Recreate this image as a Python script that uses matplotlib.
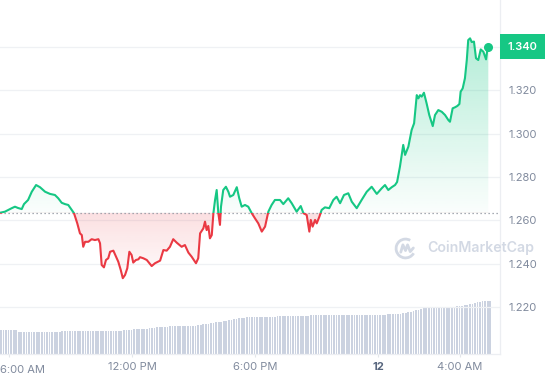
import numpy as np
import matplotlib
matplotlib.use("Agg")
import matplotlib.pyplot as plt
from matplotlib.path import Path
from matplotlib.patches import Arc
import matplotlib.transforms as mtransforms

# ---------------- data ----------------
# time in hours (from midnight of first day), price in USD
times = [
    5.56, 5.80, 6.13, 6.29, 6.44, 6.62, 6.73, 6.93, 7.11, 7.32,
    7.51, 7.76, 8.00, 8.24, 8.40, 8.57, 8.73, 8.89, 9.06, 9.17,
    9.33, 9.46, 9.55, 9.62, 9.71, 9.87, 10.03, 10.19, 10.36, 10.44,
    10.52, 10.63, 10.73, 10.84, 10.93, 11.09, 11.22, 11.33, 11.45, 11.55,
    11.66, 11.77, 11.87, 11.98, 12.06, 12.19, 12.31, 12.39, 12.55, 12.72,
    12.96, 13.12, 13.37, 13.53, 13.69, 13.85, 14.01, 14.18, 14.42, 14.58,
    14.75, 14.91, 15.12, 15.23, 15.32, 15.48, 15.56, 15.64, 15.72, 15.80,
    15.89, 15.97, 16.05, 16.13, 16.21, 16.29, 16.34, 16.45, 16.58, 16.70,
    16.78, 16.94, 17.11, 17.23, 17.35, 17.51, 17.67, 17.84, 18.00, 18.16,
    18.33, 18.49, 18.65, 18.81, 18.97, 19.22, 19.38, 19.62, 19.79, 20.03,
    20.23, 20.36, 20.52, 20.65, 20.72, 20.81, 20.93, 21.01, 21.14, 21.25,
    21.41, 21.62, 21.82, 21.98, 22.15, 22.34, 22.55, 22.72, 22.96, 23.20,
    23.45, 23.69, 23.94, 24.18, 24.34, 24.50, 24.67, 24.83, 24.93, 25.07,
    25.23, 25.32, 25.48, 25.64, 25.76, 25.89, 25.97, 26.05, 26.13, 26.24,
    26.37, 26.50, 26.67, 26.78, 26.94, 27.11, 27.27, 27.43, 27.51, 27.64,
    27.76, 27.87, 27.97, 28.03, 28.13, 28.24, 28.33, 28.40, 28.49, 28.57,
    28.68, 28.78, 28.89, 29.01, 29.14, 29.27, 29.33, 29.38,
]
prices = [
    1.2635, 1.2640, 1.2656, 1.2663, 1.2657, 1.2652, 1.2675, 1.2694, 1.2732, 1.2763,
    1.2753, 1.2732, 1.2722, 1.2717, 1.2702, 1.2681, 1.2675, 1.2671, 1.2648, 1.2633,
    1.2586, 1.2540, 1.2532, 1.2478, 1.2501, 1.2501, 1.2513, 1.2509, 1.2513, 1.2494,
    1.2394, 1.2383, 1.2417, 1.2425, 1.2455, 1.2460, 1.2432, 1.2409, 1.2371, 1.2333,
    1.2348, 1.2379, 1.2455, 1.2440, 1.2405, 1.2417, 1.2420, 1.2430, 1.2425, 1.2417,
    1.2389, 1.2402, 1.2414, 1.2463, 1.2460, 1.2478, 1.2513, 1.2497, 1.2478, 1.2486,
    1.2451, 1.2432, 1.2402, 1.2425, 1.2540, 1.2563, 1.2594, 1.2555, 1.2574, 1.2517,
    1.2532, 1.2633, 1.2694, 1.2740, 1.2633, 1.2579, 1.2663, 1.2740, 1.2755, 1.2732,
    1.2709, 1.2717, 1.2753, 1.2702, 1.2663, 1.2671, 1.2663, 1.2633, 1.2609, 1.2586,
    1.2548, 1.2571, 1.2640, 1.2671, 1.2694, 1.2694, 1.2675, 1.2702, 1.2679, 1.2640,
    1.2666, 1.2633, 1.2625, 1.2548, 1.2602, 1.2571, 1.2602, 1.2586, 1.2617, 1.2648,
    1.2660, 1.2656, 1.2694, 1.2709, 1.2679, 1.2717, 1.2725, 1.2686, 1.2656, 1.2694,
    1.2732, 1.2755, 1.2722, 1.2748, 1.2763, 1.2740, 1.2753, 1.2763, 1.2777, 1.2848,
    1.2948, 1.2902, 1.2940, 1.3017, 1.3048, 1.3178, 1.3163, 1.3178, 1.3171, 1.3189,
    1.3140, 1.3086, 1.3035, 1.3086, 1.3109, 1.3101, 1.3086, 1.3063, 1.3055, 1.3117,
    1.3122, 1.3128, 1.3137, 1.3194, 1.3209, 1.3256, 1.3340, 1.3432, 1.3440, 1.3423,
    1.3425, 1.3348, 1.3340, 1.3389, 1.3378, 1.3343, 1.3386, 1.3402,
]
# 24h volume bars (relative units), one bar every 7.5 minutes from the first time
volume = [
    240, 238, 240, 239, 240, 241, 239,
    222, 221, 220, 221, 220, 220, 221, 220, 220, 221, 220, 220, 221, 220, 221, 220, 222,
    226, 226, 227, 226, 226, 227, 226, 226, 227, 226, 228, 226, 226, 227, 226, 227,
    230, 231, 230, 232, 231, 232, 233, 234, 236,
    243, 245, 245, 246, 246, 248, 250, 252, 255, 258,
    262, 265, 268, 270, 271, 272,
    274, 276, 277, 278, 279, 280, 280, 281, 282, 283,
    284, 285, 287, 290,
    296, 300, 305, 308, 312, 316, 320, 322, 326, 330, 336, 340, 346, 350, 356, 360,
    364, 366, 368, 369, 369, 370, 370, 371, 371, 372, 372,
    374, 375, 376, 376, 377, 377, 378, 378, 378, 379, 379, 379, 380, 380,
    385, 386, 386, 386, 387, 387, 387, 387, 388, 388, 388, 388, 388, 388, 389, 389,
    389, 389, 389, 389, 389, 390, 390, 390, 390, 390, 390, 391, 391, 391, 392,
    396, 398, 400, 401, 402, 404,
    410, 414, 420, 425, 432, 438, 442,
    452, 456, 458, 460, 462,
    464, 465, 466, 466, 467, 467, 468, 468, 470,
    476, 480, 482, 488, 492, 500, 505, 512, 518, 522,
    526, 528, 530, 530,
]
vol_step_min = 7.5

xtick_pos = [6, 12, 18, 24, 28]
xtick_labels = ["6:00 AM", "12:00 PM", "6:00 PM", "12", "4:00 AM"]
ytick_vals = [1.220, 1.240, 1.260, 1.280, 1.300, 1.320, 1.340]

assert len(times) == len(prices)

# ---------------- style ----------------
GREEN = "#16c784"
RED = "#ea3943"
LABEL = "#808a9d"
GRID = "#eff1f4"
FONT = ["Inter", "DejaVu Sans"]
plt.rcParams["font.family"] = FONT

t = np.array(times)
p = np.array(prices)
base = p[0]
last_label = f"{p[-1]:.3f}"

W, H = 545, 380
fig = plt.figure(figsize=(W / 100, H / 100), dpi=100)
rect = [0, 26 / H, 500 / W, 354 / H]

# volume axis (behind)
axv = fig.add_axes(rect, zorder=0)
vt = t[0] + np.arange(len(volume)) * vol_step_min / 60
axv.bar(vt, volume, width=0.66 * vol_step_min / 60, color="#cbd2e0",
        align="edge", linewidth=0)
axv.set_ylim(0, max(volume) * 354 / 53)
axv.axis("off")

ax = fig.add_axes(rect, zorder=1)
ax.patch.set_visible(False)
x0 = t[0]
x1 = t[0] + 500 / 20.5
ax.set_xlim(x0, x1)
ax.set_ylim(1.19831, 1.3617)
axv.set_xlim(x0, x1)

# grid
for v in ytick_vals:
    ax.axhline(v, color=GRID, lw=0.9, zorder=0.5)

# spines
for s in ["top", "left"]:
    ax.spines[s].set_visible(False)
for s in ["right", "bottom"]:
    ax.spines[s].set_color("#eceef2")
    ax.spines[s].set_linewidth(0.9)

# gradient fill clipped to the area between line and baseline
ny = 400
ys = np.linspace(1.19831, 1.3617, ny)
rgba = np.zeros((ny, 1, 4))
g = np.array(matplotlib.colors.to_rgb(GREEN))
r = np.array(matplotlib.colors.to_rgb(RED))
pmax, pmin = p.max(), p.min()
for i, yv in enumerate(ys):
    if yv >= base:
        a = 0.30 * np.clip((yv - base) / (pmax - base), 0, 1) + 0.02
        rgba[i, 0, :3] = g
        rgba[i, 0, 3] = a
    else:
        a = 0.14 * (1 - np.clip((base - yv) / (base - pmin), 0, 1)) + 0.02
        rgba[i, 0, :3] = r
        rgba[i, 0, 3] = a
im = ax.imshow(rgba, extent=(t[0], t[-1], ys[0], ys[-1]), origin="lower",
               aspect="auto", interpolation="bilinear", zorder=1)
verts = list(zip(t, p)) + [(t[-1], base), (t[0], base), (t[0], p[0])]
clip = Path(verts, closed=True)
im.set_clip_path(clip, ax.transData)

# baseline (dotted)
ax.axhline(base, color="#8b919c", lw=0.9, ls=(0, (1, 2.2)), zorder=2)

# price line: green above, red below
above = Path([(x0 - 1, base), (x1 + 1, base), (x1 + 1, 2), (x0 - 1, 2), (x0 - 1, base)])
below = Path([(x0 - 1, base), (x1 + 1, base), (x1 + 1, 0), (x0 - 1, 0), (x0 - 1, base)])
lg, = ax.plot(t, p, color=GREEN, lw=1.5, solid_joinstyle="round", zorder=3)
lg.set_clip_path(above, ax.transData)
lr, = ax.plot(t, p, color=RED, lw=1.5, solid_joinstyle="round", zorder=3)
lr.set_clip_path(below, ax.transData)
ax.plot(t[-1], p[-1], "o", ms=5.5, color=GREEN, zorder=4)

# y axis ticks on right (the top one is replaced by the current price tag)
ax.yaxis.tick_right()
ax.set_yticks(ytick_vals)
ax.set_yticklabels(["" if f"{v:.3f}" == last_label else f"{v:.3f}" for v in ytick_vals])
ax.tick_params(axis="y", length=0, pad=6, labelsize=8, labelcolor=LABEL)

# x axis ticks
ax.set_xticks(xtick_pos)
ax.set_xticklabels([""] + xtick_labels[1:])
ax.tick_params(axis="x", length=2.5, width=0.8, color="#e3e6eb", pad=3,
               labelsize=8, labelcolor=LABEL)
for lbl, txt in zip(ax.get_xticklabels(), [""] + xtick_labels[1:]):
    if txt == "12":
        lbl.set_fontweight("bold")
        lbl.set_color("#58667e")
ax.annotate(xtick_labels[0], xy=(0, 0), xycoords="axes fraction",
            xytext=(0, -8), textcoords="offset points", ha="left", va="top",
            fontsize=8, color=LABEL)

# current price tag
trans = mtransforms.blended_transform_factory(ax.transAxes, ax.transData)
ax.annotate(last_label, xy=(1.0, p[-1]), xycoords=trans,
            xytext=(5.6, 0), textcoords="offset points", ha="left", va="center",
            fontsize=8, color="white", fontweight="semibold", zorder=10,
            annotation_clip=False,
            bbox=dict(boxstyle="square,pad=0.68", fc=GREEN, ec="none"))

# watermark
fig.text(427 / W, 1 - 248 / H, "CoinMarketCap", ha="left", va="center",
         fontsize=10.2, color="#d3d9e4", fontweight="semibold")
lax = fig.add_axes([394 / W, 1 - 260 / H, 23 / W, 23 / H])
lax.set_xlim(-1.1, 1.1)
lax.set_ylim(-1.1, 1.1)
lax.axis("off")
lax.add_patch(Arc((0, 0), 1.8, 1.8, theta1=60, theta2=330, color="#d3d9e4", lw=2.0))
lax.plot([-0.45, -0.25, 0.0, 0.2, 0.45, 0.75], [-0.35, 0.35, -0.2, 0.35, -0.3, 0.05],
         color="#d3d9e4", lw=2.0, solid_joinstyle="round", solid_capstyle="round")

fig.savefig("out.png", dpi=100)
